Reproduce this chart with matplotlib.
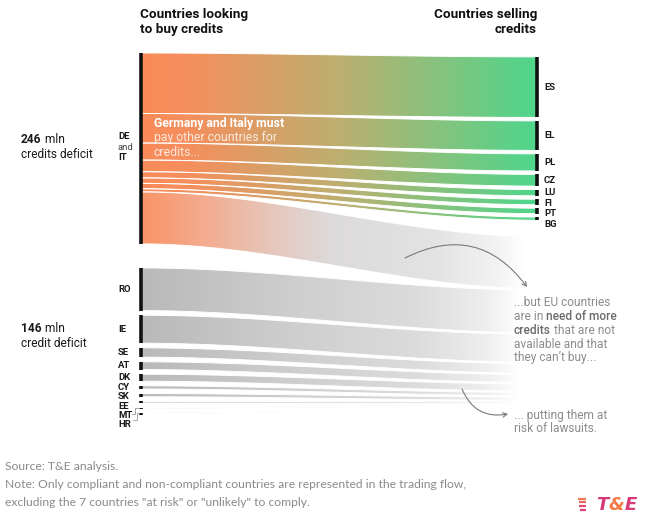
import numpy as np
import matplotlib.pyplot as plt
from matplotlib.patches import Polygon, FancyArrowPatch
from matplotlib.colors import to_rgb

plt.rcParams['font.family'] = ['Roboto', 'DejaVu Sans']

# credits in mln
big_deficit = 246            # DE and IT
sellers = ['ES', 'EL', 'PL', 'CZ', 'LU', 'FI', 'PT', 'BG']
sold = [78, 38, 22, 15, 8, 7, 7, 4]
small_buyers = ['RO', 'IE', 'SE', 'AT', 'DK', 'CY', 'SK', 'EE', 'MT', 'HR']
small_deficit = [55, 36, 12, 10, 9, 4, 4, 2, 1, 1]
small_total = 146

W, H = 650, 525
fig = plt.figure(figsize=(W / 100, H / 100), dpi=100)
fig.patch.set_facecolor('white')

# sankey axes: x runs from buyer column (0) to seller column (1), y in mln credits
ax = fig.add_axes([141 / W, 1 - 420 / H, (537 - 141) / W, 367 / H])
YMAX = 473
ax.axis('off')

# pixel overlay for the text
ov = fig.add_axes([0, 0, 1, 1], zorder=10)
ov.set_xlim(0, W)
ov.set_ylim(H, 0)
ov.axis('off')
renderer = fig.canvas.get_renderer()


def gradient(stops, colors, n=300):
    t = np.linspace(0, 1, n)
    rgb = np.array([to_rgb(c) for c in colors])
    return np.stack([np.interp(t, stops, rgb[:, k]) for k in range(3)], axis=-1)[None, :, :]


def draw_flow(y_left, y_right, width, grad):
    x = np.linspace(0, 1, 150)
    s = 3 * x ** 2 - 2 * x ** 3
    top = y_left + (y_right - y_left) * s
    verts = np.vstack([np.column_stack([x, top]),
                       np.column_stack([x[::-1], top[::-1] + width])])
    poly = Polygon(verts, closed=True, fc='none', ec='white', lw=0.65, zorder=3)
    ax.add_patch(poly)
    im = ax.imshow(grad, extent=(0, 1, YMAX, 0), aspect='auto',
                   interpolation='bilinear', zorder=2)
    im.set_clip_path(poly)


def starts(values, first, gap):
    v = np.asarray(values, dtype=float)
    return first + np.concatenate([[0], np.cumsum(v)[:-1]]) + gap * np.arange(len(v))


# positions along each column
sold_left = starts(sold, 0, 0)
sold_right = starts(sold, 5, 4.5)
unmet = big_deficit - sum(sold)
unmet_right = sold_right[-1] + sold[-1] + 21
low_left = starts(small_deficit, big_deficit + 31, 6)
low_right = starts(small_deficit, unmet_right + unmet + 2, 2)

green = gradient([0, 0.12, 0.5, 1], ['#fa8b5a', '#f48f5d', '#bdaf70', '#4fd68c'])
faded_orange = gradient([0, 0.15, 0.33, 0.48, 0.75, 0.9, 0.97, 1],
                        ['#f99466', '#f4aa8d', '#e6c7bc', '#dcdada', '#e4e4e4',
                         '#f3f3f3', '#ffffff', '#ffffff'])
grey = gradient([0, 0.4, 0.7, 0.87, 0.96, 1],
                ['#b9b9b9', '#cfcfcf', '#dcdcdc', '#eeeeee', '#ffffff', '#ffffff'])

for yl, yr, v in zip(sold_left, sold_right, sold):
    draw_flow(yl, yr, v, green)
draw_flow(sum(sold), unmet_right, unmet, faded_orange)
for yl, yr, v in zip(low_left, low_right, small_deficit):
    draw_flow(yl, yr, v, grey)

ax.set_xlim(0, 1)
ax.set_ylim(YMAX, 0)

# node bars
bar = dict(color='#111111', lw=2.6, zorder=5, clip_on=False)
ax.vlines(0, 0, big_deficit, **bar)
ax.vlines(np.ones(len(sold)), sold_right, sold_right + np.maximum(sold, 3), **bar)
ax.vlines(np.zeros(len(small_deficit)), low_left,
          low_left + np.maximum(small_deficit, 2), **bar)


def to_px(x, y):
    X, Y = ax.transData.transform((x, y))
    return X, H - Y


def spread(centers, min_gap):
    out = []
    for c in centers:
        out.append(c if not out else max(c, out[-1] + min_gap))
    return out


def rich(x, y, parts, size, **kw):
    for txt, weight, color in parts:
        t = ov.text(x, y, txt, fontsize=size, fontweight=weight, color=color,
                    va='center', ha='left', **kw)
        x += t.get_window_extent(renderer).width


lab = dict(fontsize=6.8, fontweight='bold', color='#1a1a1a', va='center')

# seller labels
for name, c in zip(sellers, spread(sold_right + np.array(sold) / 2, 13.5)):
    X, Y = to_px(1, c)
    ov.text(X + 7, Y, name, ha='left', **lab)

# small buyer labels
low_lab = spread(low_left + np.array(small_deficit) / 2, 12)
for name, c in zip(small_buyers, low_lab):
    X, Y = to_px(0, c)
    ov.text(X - 23, Y, name, ha='left', **lab)

# MT / HR leader lines
X0, _ = to_px(0, 0)
_, y_mt = to_px(0, low_lab[8])
_, y_hr = to_px(0, low_lab[9])
_, d_mt = to_px(0, low_left[8] + 0.5)
_, d_hr = to_px(0, low_left[9] + 0.5)
ov.plot([X0 - 9, X0 - 6, X0 - 6, X0 - 2], [y_mt - 1, y_mt - 1, d_mt, d_mt], color='#9a9a9a', lw=0.6)
ov.plot([X0 - 8, X0 - 4, X0 - 4, X0 - 2], [y_hr - 5, y_hr - 5, d_hr, d_hr], color='#9a9a9a', lw=0.6)

# DE and IT label
X, Yc = to_px(0, big_deficit / 2)
ov.text(X - 23, Yc - 12, 'DE', ha='left', **lab)
ov.text(X - 23, Yc - 1, 'and', ha='left', fontsize=6.8, color='#444444', va='center')
ov.text(X - 23, Yc + 9.5, 'IT', ha='left', **lab)

# group totals
rich(21, Yc - 9, [(f'{big_deficit}', 'bold', '#1a1a1a'), (' mln', 'normal', '#1a1a1a')], 8.6)
ov.text(21, Yc + 6, 'credits deficit', fontsize=8.6, color='#1a1a1a', va='center')
_, Yl = to_px(0, (low_left[0] + low_left[-1] + small_deficit[-1]) / 2)
rich(21, Yl - 12, [(f'{small_total}', 'bold', '#1a1a1a'), (' mln', 'normal', '#1a1a1a')], 8.6)
ov.text(21, Yl + 3, 'credit deficit', fontsize=8.6, color='#1a1a1a', va='center')

# column titles
ov.text(140, 22, 'Countries looking\nto buy credits', fontsize=9.7, fontweight='bold',
        color='#111111', va='center', ha='left', linespacing=1.2)
ov.text(537, 22, 'Countries selling\ncredits', fontsize=9.7, fontweight='bold',
        color='#111111', va='center', ha='right', multialignment='right', linespacing=1.2)

# text inside the DE/IT block
rich(154, 124, [('Germany and Italy must', 'bold', 'white')], 8.8)
rich(154, 138, [('pay other countries for', 'normal', (1, 1, 1, 0.8))], 8.8)
rich(154, 152, [('credits...', 'normal', (1, 1, 1, 0.8))], 8.8)

# annotations on the right
g, gb = '#8c8c8c', '#6a6a6a'
lines = [[('...but EU countries', 'normal', g)],
         [('are in ', 'normal', g), ('need of more', 'medium', gb)],
         [('credits', 'medium', gb), (' that are not', 'normal', g)],
         [('available and that', 'normal', g)],
         [('they can\u2019t buy...', 'normal', g)]]
for k, parts in enumerate(lines):
    rich(514, 302 + 14 * k, parts, 8.6)
rich(514, 415, [('... putting them at', 'normal', g)], 8.6)
rich(514, 429, [('risk of lawsuits.', 'normal', g)], 8.6)

arrow = dict(arrowstyle='->,head_length=3,head_width=1.6', color='#7a7a7a', lw=0.8,
             shrinkA=0, shrinkB=0)
ov.add_patch(FancyArrowPatch((405, 258), (527, 287), connectionstyle='arc3,rad=-0.42', **arrow))
ov.add_patch(FancyArrowPatch((462, 389), (508, 414), connectionstyle='arc3,rad=0.4', **arrow))

# footer
foot = dict(fontsize=8.7, color='#8a8a8a', va='center', ha='left',
            family=['Liberation Sans Narrow', 'Lato', 'DejaVu Sans'])
ov.text(5, 466, 'Source: T&E analysis.', **foot)
ov.text(5, 484, 'Note: Only compliant and non-compliant countries are represented in the trading flow,', **foot)
ov.text(5, 502, 'excluding the 7 countries "at risk" or "unlikely" to comply.', **foot)

# logo
for k, c in enumerate(['#f07a52', '#ea6660', '#e04f6e', '#d9417a']):
    ov.plot([578 + k * 0.6, 586], [498.5 + 3.8 * k] * 2, color=c, lw=1.6, solid_capstyle='butt')
x = 596
for ch, c in (('T', '#d63a78'), ('&', '#f47a45'), ('E', '#d63a78')):
    t = ov.text(x, 505, ch, fontsize=13, fontweight='bold', style='italic', color=c,
                va='center', ha='left', family=['DejaVu Sans'])
    x += t.get_window_extent(renderer).width + 0.5

fig.savefig('out.png', dpi=100)
